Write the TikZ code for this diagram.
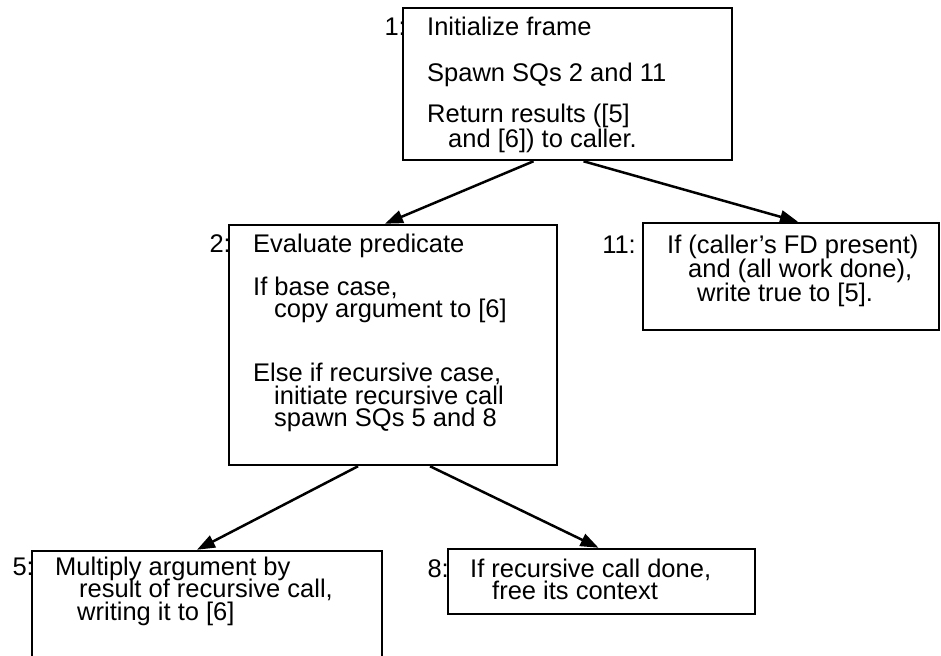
\documentclass[tikz,border=0pt]{standalone}
\usepackage{fontspec}
\setmainfont{Liberation Sans}
\usetikzlibrary{arrows.meta}
\newcommand{\sqlines}[1]{\parbox[t]{330pt}{\lineskiplimit=-100pt\relax #1}}

\begin{document}
\begin{tikzpicture}[x=1pt,y=-1pt,
	every node/.style={font=\fontsize{25.5}{22.5}\selectfont},
	frame/.style={draw, line width=2.5pt, inner sep=0pt},
	txt/.style={inner sep=0pt, anchor=base west},
	lbl/.style={inner sep=0pt, anchor=base east},
	arr/.style={line width=2.5pt, -{Triangle[length=18pt,width=13pt]}}]
	\useasboundingbox (0,0) rectangle (941,655);
	% boxes of the subqueues
	\node[frame, minimum width=329, minimum height=152] (b1) at (567.5,84) {};
	\node[frame, minimum width=328, minimum height=240] (b2) at (393,345) {};
	\node[frame, minimum width=296, minimum height=107] (b11) at (791,276.5) {};
	\node[frame, minimum width=350, minimum height=129] (b5) at (207,615.5) {};
	\node[frame, minimum width=307, minimum height=65] (b8) at (601.5,581.5) {};
	% numbers
	\node[lbl] (l1) at (406,36) {1:};
	\node[lbl] (l2) at (231,252) {2:};
	\node[lbl] (l11) at (636,253) {11:};
	\node[lbl] (l5) at (34,575) {5:};
	\node[lbl] (l8) at (449,577) {8:};
	% texts
	\node[txt] (t1) at (427,36) {\sqlines{Initialize frame\\[23.5pt]
		Spawn SQs 2 and 11\\[18.5pt]
		Return results ([5]\\[2.5pt]
		\hspace*{21pt}and [6]) to caller.}};
	\node[txt] (t2) at (253,252) {\sqlines{Evaluate predicate\\[20.5pt]
		If base case,\\
		\hspace*{21pt}copy argument to [6]\\[41.5pt]
		Else if recursive case,\\
		\hspace*{21pt}initiate recursive call\\
		\hspace*{21pt}spawn SQs 5 and 8}};
	\node[txt] (t11) at (667,253) {\sqlines{If (caller’s FD present)\\[1.5pt]
		\hspace*{21pt}and (all work done),\\[1.5pt]
		\hspace*{30pt}write true to [5].}};
	\node[txt] (t5) at (55,575) {\sqlines{Multiply argument by\\
		\hspace*{24pt}result of recursive call,\\
		\hspace*{22pt}writing it to [6]}};
	\node[txt] (t8) at (470,577) {\sqlines{If recursive call done,\\
		\hspace*{22pt}free its context}};
	% spawning arrows
	\draw[arr] ([xshift=-34pt]b1.south) -- ([xshift=-8pt]b2.north);
	\draw[arr] ([xshift=16pt]b1.south) -- ([xshift=7pt]b11.north);
	\draw[arr] ([xshift=-35pt]b2.south) -- ([xshift=-10pt]b5.north);
	\draw[arr] ([xshift=37pt]b2.south) -- ([xshift=-3pt]b8.north);
\end{tikzpicture}
\end{document}
